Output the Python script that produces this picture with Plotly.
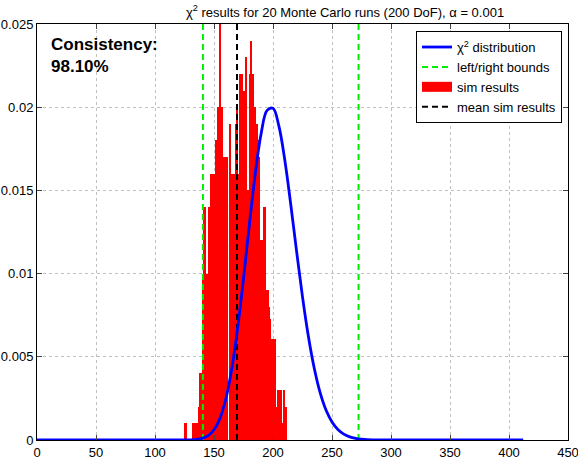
import plotly.graph_objects as go

# ---- data ----
bin_left = list(range(125, 212))
bin_heights = [
    0.001, 0.001, 0, 0, 0, 0, 0, 0.001, 0.001, 0.001,      # 125-134
    0.001, 0.001, 0.002, 0.004, 0.004, 0.010, 0.014, 0.014, 0.010, 0.010,  # 135-144
    0.014, 0.014, 0.016, 0.016, 0.016, 0.016, 0.018, 0.017, 0.020, 0.020,  # 145-154
    0.028, 0.020, 0, 0.017, 0.017, 0.017, 0.017, 0, 0.019, 0.013,          # 155-164
    0.016, 0.016, 0.016, 0.019, 0.020, 0.016, 0.016, 0.022, 0.022, 0.021,  # 165-174
    0.014, 0.021, 0.023, 0.015, 0.015, 0.022, 0.024, 0.021, 0.022, 0.020,  # 175-184
    0.019, 0.019, 0.018, 0.017, 0.012, 0.004, 0.012, 0.014, 0.014, 0.009,  # 185-194
    0.009, 0.008, 0.0073, 0.0061, 0.0061, 0.0061, 0.0061, 0.002, 0.002, 0.003,  # 195-204
    0.003, 0.003, 0.001, 0.001, 0.003, 0.002, 0.002,                       # 205-211
]

curve_x = [0, 72, 120, 130, 135, 140, 145, 150, 155, 160, 165, 170, 175, 180, 185,
           190, 195, 200, 205, 210, 215, 220, 225, 230, 235, 240, 245, 250,
           255, 260, 265, 270, 275, 280, 290, 300, 412]
curve_y = [0, 0, 0.000001, 0.0000095, 0.0000327, 0.0000984, 0.000261, 0.000614,
           0.001294, 0.002462, 0.004252, 0.00670, 0.00971, 0.01296, 0.01603,
           0.01844, 0.01981, 0.01993, 0.01886, 0.01682, 0.01418, 0.01134,
           0.00860, 0.00622, 0.00430, 0.002835, 0.00179, 0.001088, 0.000634,
           0.000356, 0.000192, 0.0001005, 0.0000507, 0.0000248, 0.0000054, 0, 0]

left_bound = 140.6
right_bound = 272.5
mean_sim = 169.5
consistency = "98.10%"

x_ticks = [0, 50, 100, 150, 200, 250, 300, 350, 400, 450]
y_ticks = [0, 0.005, 0.01, 0.015, 0.02, 0.025]
y_tick_labels = ["0", "0.005", "0.01", "0.015", "0.02", "0.025"]

y_max = 0.025
x_max = 450

FONT = "Liberation Sans, Arial, Helvetica, sans-serif"

fig = go.Figure()

fig.add_trace(go.Bar(
    x=[b + 0.5 for b in bin_left], y=bin_heights, width=1.0,
    marker=dict(color="#ff0000", line=dict(width=0)),
    name="sim results", showlegend=False,
))

fig.add_trace(go.Scatter(
    x=[left_bound, left_bound, None, right_bound, right_bound],
    y=[0, y_max, None, 0, y_max], mode="lines",
    line=dict(color="#00ee00", width=2, dash="6px,4px"),
    name="left/right bounds", legendrank=2,
))

fig.add_trace(go.Scatter(
    x=[mean_sim, mean_sim], y=[0, y_max], mode="lines",
    line=dict(color="black", width=2, dash="6px,4px"),
    name="mean sim results", legendrank=4,
))

fig.add_trace(go.Scatter(
    x=curve_x, y=curve_y, mode="lines", line_shape="spline",
    line=dict(color="#0000ff", width=2.8),
    name="χ<sup>2</sup> distribution", legendrank=1,
))

# legend proxy for the histogram (wide red rectangle)
fig.add_trace(go.Scatter(
    x=[None], y=[None], mode="lines",
    line=dict(color="#ff0000", width=12),
    name="sim results", legendrank=3,
))

fig.add_annotation(
    x=0.0226, y=0.978, xref="paper", yref="paper", xanchor="left", yanchor="top",
    text="<b>Consistency:<br>" + consistency + "</b>", showarrow=False, align="left",
    font=dict(family=FONT, size=17, color="black"),
)

fig.update_layout(
    width=578, height=462,
    margin=dict(l=37, r=10, t=24, b=22),
    paper_bgcolor="white", plot_bgcolor="white",
    title=dict(text="χ<sup>2</sup> results for 20 Monte Carlo runs (200 DoF), α = 0.001",
               x=0.597, xanchor="center", y=0.983, yanchor="top",
               font=dict(family=FONT, size=13, color="black")),
    font=dict(family=FONT, size=13, color="black"),
    bargap=0,
    showlegend=True,
    legend=dict(x=0.9887, y=0.983, xanchor="right", yanchor="top",
                bgcolor="white", bordercolor="black", borderwidth=1,
                font=dict(family=FONT, size=13), tracegroupgap=0,
                itemwidth=30),
)

fig.update_xaxes(
    range=[0, x_max], tickvals=x_ticks, ticks="inside", ticklen=5,
    showline=True, linecolor="black", linewidth=1, mirror="ticks",
    showgrid=True, gridcolor="#c0c0c0", griddash="dot", gridwidth=1,
    zeroline=False, tickfont=dict(size=13), automargin=False,
    ticklabeloverflow="allow",
)
fig.update_yaxes(
    range=[0, y_max], tickvals=y_ticks, ticktext=y_tick_labels, ticks="inside", ticklen=5,
    showline=True, linecolor="black", linewidth=1, mirror="ticks",
    showgrid=True, gridcolor="#c0c0c0", griddash="dot", gridwidth=1,
    zeroline=False, tickfont=dict(size=13), automargin=False,
    ticklabeloverflow="allow",
)

fig.write_html("out.html", config={"displayModeBar": False},
               post_script="document.body.style.margin='0';")
